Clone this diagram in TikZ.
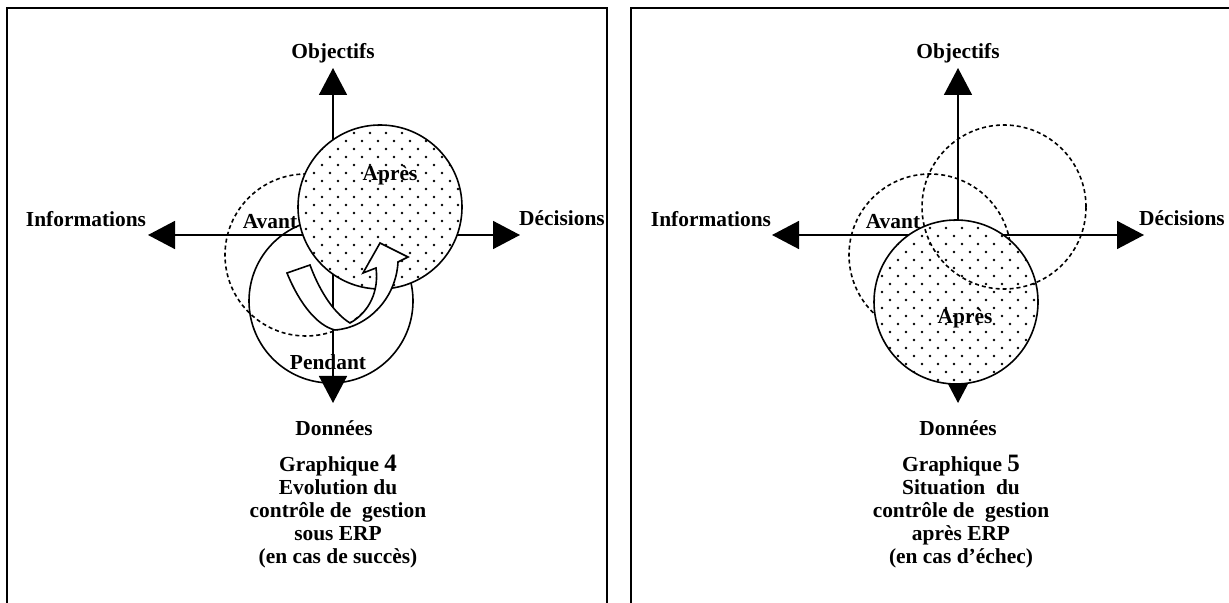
\documentclass[tikz,border=0pt]{standalone}
\usepackage{fontspec}
\setmainfont{Liberation Serif}
\usetikzlibrary{arrows.meta,positioning}

\begin{document}
\begin{tikzpicture}[x=0.5pt,y=-0.5pt,line width=0.8pt,
    axis/.style={-{Triangle[width=14pt,length=13.5pt]}},
    lbl/.style={font=\bfseries\fontsize{10.7}{11.5}\selectfont,inner sep=0pt},
    capt/.style={lbl,align=center},
    before/.style={line width=0.8pt,dash pattern=on 2pt off 1.5pt},
    frame/.style={line width=1pt}]

        \useasboundingbox (0,0) rectangle (1229,603);

        % frames
        \draw[frame] (7,610) -- (7,8) -- (607,8) -- (607,610);
        \draw[frame] (631,610) -- (631,8) -- (1240,8);

        % left: axes
        \coordinate (o1) at (333,235);
        \coordinate (n1) at (333,68);
        \coordinate (s1) at (333,403);
        \coordinate (w1) at (148,235);
        \coordinate (e1) at (520,235);
        \draw[axis] (o1) -- (n1);
        \draw[axis] (o1) -- (s1);
        \draw[axis] (o1) -- (w1);
        \draw[axis] (o1) -- (e1);

        % left: circles
        \coordinate (av1) at (306,255);
        \coordinate (pe1) at (331,301);
        \coordinate (ap1) at (380,207);
        \draw[before] (av1) circle (40.5pt);
        \draw (pe1) circle (41pt);
        \fill[white] (ap1) circle (41pt);
        \begin{scope}
          \clip (ap1) circle (41pt);
          \foreach \r in {0,...,21} \foreach \c in {0,...,11}
            \fill ({298+16*\c+8*mod(\r,2)},{125+8*\r}) circle (0.7pt);
        \end{scope}
        \draw (ap1) circle (41pt);

        % left: turning arrow
        \draw[fill=white] (287,273) .. controls (300,305) and (318,326) .. (335,330)
              .. controls (366,328) and (396,300) .. (398,262) -- (408,257)
              -- (380,243) -- (363,273) -- (376,268)
              .. controls (379,290) and (370,312) .. (350,323)
              .. controls (332,312) and (318,287) .. (310,265) -- cycle;

        % left: labels
        \node[lbl] (obj1) at (333,53) {Objectifs};
        \node[lbl] (inf1) at (86,219) {Informations};
        \node[lbl] (dec1) at (562,218) {Décisions};
        \node[lbl] (don1) at (334,428) {Données};
        \node[lbl] (avl1) at (270,222) {Avant};
        \node[lbl] (apl1) at (390,175) {Après};
        \node[lbl] (pel1) at (328,362) {Pendant};
        \node[capt] (cap1) at (338,512) {Graphique {\fontsize{12.5}{11.5}\selectfont 4}\\
              Evolution du\\ contrôle de\ \ gestion\\ sous ERP\\ (en cas de succès)};

        % right: axes
        \coordinate (o2) at (958,235);
        \coordinate (n2) at (958,68);
        \coordinate (s2) at (958,403);
        \coordinate (w2) at (772,235);
        \coordinate (e2) at (1144,235);
        \draw[axis] (o2) -- (n2);
        \draw[axis] (o2) -- (s2);
        \draw[axis] (o2) -- (w2);
        \draw[axis] (o2) -- (e2);

        % right: circles
        \coordinate (av2) at (930,255);
        \coordinate (ap2) at (956,302);
        \coordinate (ob2) at (1004,207);
        \draw[before] (av2) circle (40.5pt);
        \fill[white] (ap2) circle (41pt);
        \begin{scope}
          \clip (ap2) circle (41pt);
          \foreach \r in {0,...,21} \foreach \c in {0,...,11}
            \fill ({874+16*\c+8*mod(\r,2)},{220+8*\r}) circle (0.7pt);
        \end{scope}
        \draw (ap2) circle (41pt);
        \draw[before] (ob2) circle (41pt);

        % right: labels
        \node[lbl] (obj2) at (958,53) {Objectifs};
        \node[lbl] (inf2) at (711,219) {Informations};
        \node[lbl] (dec2) at (1182,218) {Décisions};
        \node[lbl] (don2) at (958,428) {Données};
        \node[lbl] (avl2) at (893,222) {Avant};
        \node[lbl] (apl2) at (965,318) {Après};
        \node[capt] (cap2) at (961,512) {Graphique {\fontsize{12.5}{11.5}\selectfont 5}\\
              Situation\ \ du\\ contrôle de\ \ gestion\\ après ERP\\ (en cas d’échec)};

\end{tikzpicture}
\end{document}
